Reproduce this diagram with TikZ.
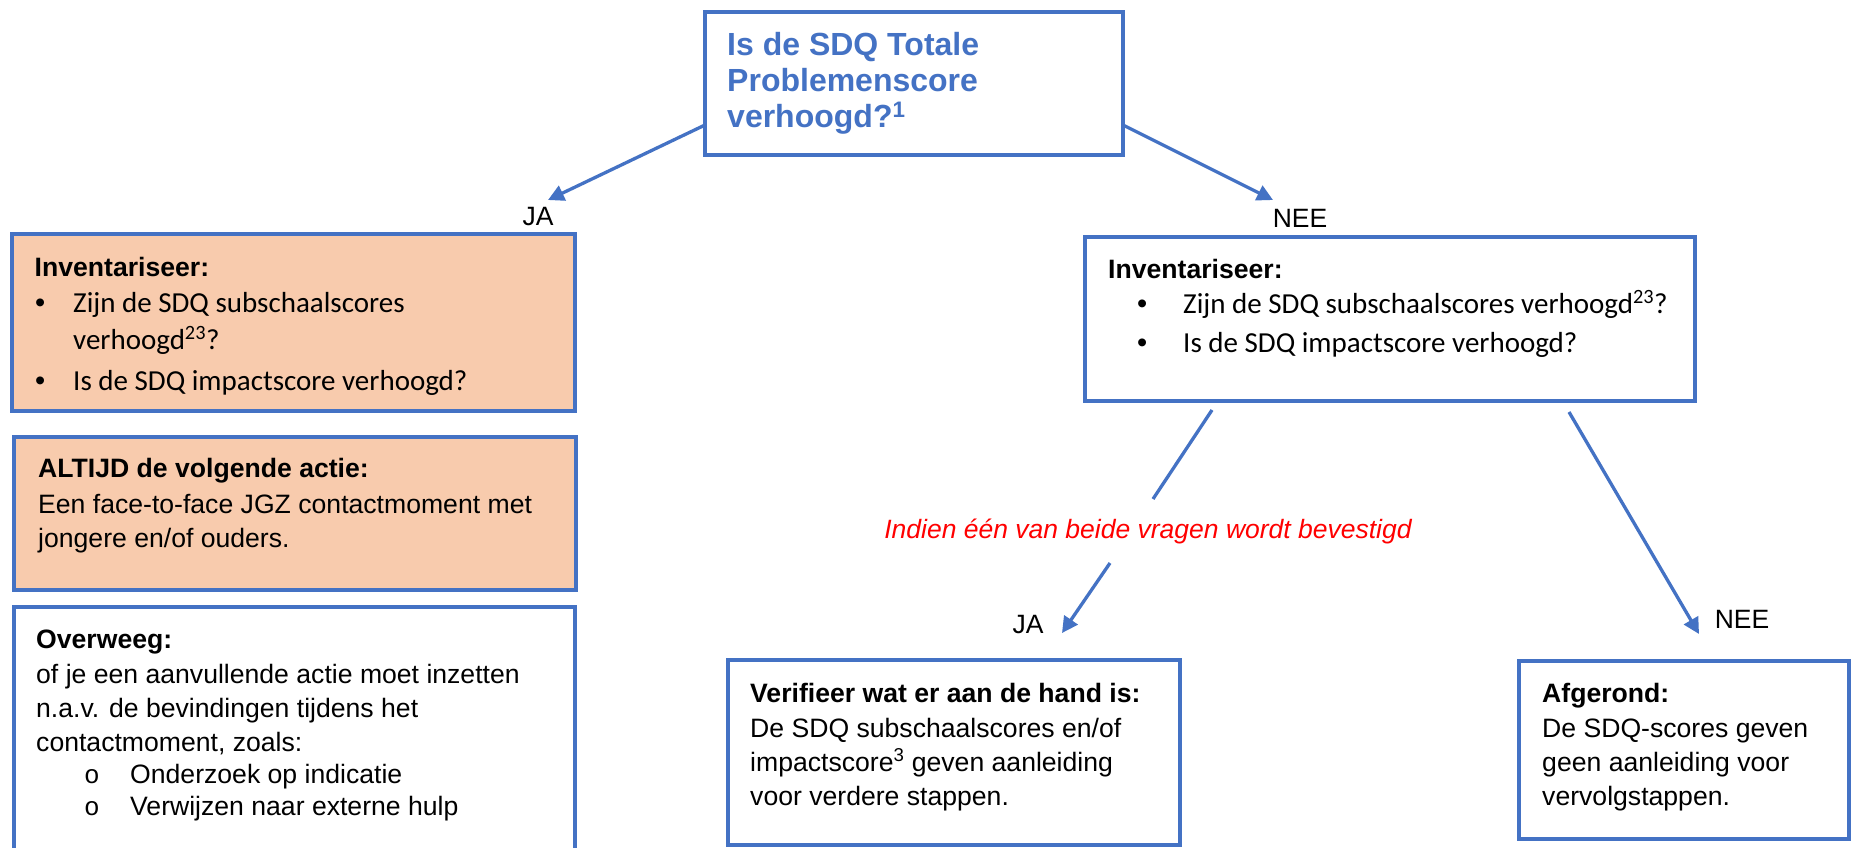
\documentclass[tikz,border=0pt]{standalone}
\usepackage{fontspec}
\setmainfont{Liberation Sans}
\newfontfamily\calfont{Carlito}
\newfontfamily\cmono{Liberation Mono}
\usetikzlibrary{arrows.meta,calc}
\definecolor{bblue}{HTML}{4472C4}
\definecolor{borange}{HTML}{F8CBAD}
\definecolor{bred}{HTML}{FF0000}
\begin{document}
\begin{tikzpicture}[x=1pt,y=-1pt,
  box/.style={draw=bblue,line width=3.6pt,anchor=north west,inner sep=0pt,outer sep=0pt},
  abox/.style={box,fill=borange},
  txt/.style={anchor=base west,inner sep=0pt,font=\fontsize{26.6}{30}\selectfont},
  btxt/.style={anchor=base west,inner sep=0pt,font=\fontsize{26.6}{30}\selectfont\bfseries},
  ttl/.style={anchor=base west,inner sep=0pt,text=bblue,font=\fontsize{32}{36}\selectfont\bfseries},
  ctxt/.style={anchor=base west,inner sep=0pt,font=\calfont\fontsize{29}{33}\selectfont},
  bul/.style={anchor=base west,inner sep=0pt,font=\fontsize{29}{33}\selectfont},
  obul/.style={anchor=base west,inner sep=0pt,font=\cmono\fontsize{26}{30}\selectfont},
  lbl/.style={anchor=base,inner sep=0pt,font=\fontsize{26.5}{30}\selectfont},
  conn/.style={draw=bblue,line width=3.3pt},
  arr/.style={conn,-{Triangle[length=16pt,width=16pt]}},
]
\useasboundingbox[fill=white] (0,0) rectangle (1851,847);

% top question box
\node[box,minimum width=418pt,minimum height=143pt] (tb) at (705,12) {};
\node[ttl] (t1) at (727,55) {Is de SDQ Totale};
\node[ttl] (t2) at (727,91) {Problemenscore};
\node[ttl] (t3) at (727,127) {verhoogd?\textsuperscript{1}};

% labels
\node[lbl] (jaL) at (538,225) {JA};
\node[lbl] (neeR) at (1300,227) {NEE};
\node[lbl] (ja2) at (1028,633) {JA};
\node[lbl] (nee2) at (1742,628) {NEE};

% left box 1
\node[abox,minimum width=563pt,minimum height=177pt] (b1) at (12,234) {};
\node[btxt] (b1h) at (34.5,276) {Inventariseer:};
\node[bul] (b1b1) at (35,312) {•};
\node[ctxt] (b1l1) at (73,312) {Zijn de SDQ subschaalscores};
\node[ctxt] (b1l2) at (73,349) {verhoogd\textsuperscript{23}?};
\node[bul] (b1b2) at (35,390) {•};
\node[ctxt] (b1l3) at (73,390) {Is de SDQ impactscore verhoogd?};

% left box 2
\node[abox,minimum width=562pt,minimum height=153pt] (b2) at (14,437) {};
\node[btxt] (b2h) at (38,477) {ALTIJD de volgende actie:};
\node[txt] (b2l1) at (38,513) {Een face-to-face JGZ contactmoment met};
\node[txt] (b2l2) at (38,547) {jongere en/of ouders.};

% left box 3
\node[box,minimum width=561pt,minimum height=270pt] (b3) at (14,607) {};
\node[btxt] (b3h) at (36,648) {Overweeg:};
\node[txt] (b3l1) at (36,683) {of je een aanvullende actie moet inzetten};
\node[txt] (b3l2) at (36,717) {n.a.v. de bevindingen tijdens het};
\node[txt] (b3l3) at (36,751) {contactmoment, zoals:};
\node[obul] (b3o1) at (84,783) {o};
\node[txt] (b3l4) at (130,783) {Onderzoek op indicatie};
\node[obul] (b3o2) at (84,815) {o};
\node[txt] (b3l5) at (130,815) {Verwijzen naar externe hulp};

% right box
\node[box,minimum width=610pt,minimum height=164pt] (rb) at (1085,237) {};
\node[btxt] (rbh) at (1108,278) {Inventariseer:};
\node[bul] (rbb1) at (1137,313) {•};
\node[ctxt] (rbl1) at (1183,313) {Zijn de SDQ subschaalscores verhoogd\textsuperscript{23}?};
\node[bul] (rbb2) at (1137,352) {•};
\node[ctxt] (rbl2) at (1183,352) {Is de SDQ impactscore verhoogd?};

% red condition label
\node[lbl,text=bred,font=\fontsize{26.5}{30}\selectfont\itshape] (cond) at (1148,538) {Indien één van beide vragen wordt bevestigd};

% verifieer box
\node[box,minimum width=452pt,minimum height=185pt] (vb) at (728,660) {};
\node[btxt] (vbh) at (750,702) {Verifieer wat er aan de hand is:};
\node[txt] (vbl1) at (750,737) {De SDQ subschaalscores en/of};
\node[txt] (vbl2) at (750,771) {impactscore\textsuperscript{3} geven aanleiding};
\node[txt] (vbl3) at (750,805) {voor verdere stappen.};

% afgerond box
\node[box,minimum width=330pt,minimum height=178pt] (ab) at (1519,661) {};
\node[btxt] (abh) at (1542,702) {Afgerond:};
\node[txt] (abl1) at (1542,737) {De SDQ-scores geven};
\node[txt] (abl2) at (1542,771) {geen aanleiding voor};
\node[txt] (abl3) at (1542,805) {vervolgstappen.};

% connector end points
\coordinate (s1) at ($(tb.south west)+(0,-30)$);
\coordinate (e1) at (548,200);
\coordinate (s2) at ($(tb.south east)+(0,-30)$);
\coordinate (e2) at (1273,200);
\coordinate (s3) at (1212,410);
\coordinate (g1) at (1153,499);
\coordinate (g2) at (1110,563);
\coordinate (e3) at (1062,633);
\coordinate (s4) at (1569,412);
\coordinate (e4) at (1699,634);

\draw[arr] (s1) -- (e1);
\draw[arr] (s2) -- (e2);
\draw[conn] (s3) -- (g1);
\draw[arr] (g2) -- (e3);
\draw[arr] (s4) -- (e4);
\end{tikzpicture}
\end{document}
